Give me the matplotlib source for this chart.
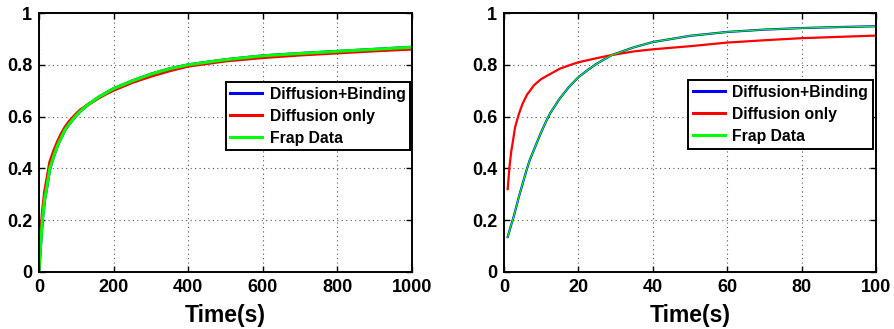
import matplotlib
matplotlib.use("Agg")
import matplotlib.pyplot as plt

plt.rcParams['font.family'] = ['Liberation Sans', 'DejaVu Sans']
plt.rcParams['font.weight'] = 'bold'

# long time scale (0-1000 s)
t_long = [0, 3, 5, 9, 15, 20, 29, 40, 50, 60, 70, 80, 97, 110, 130, 160, 180, 200,
          250, 300, 350, 400, 500, 600, 700, 800, 900, 1000]
long_binding = [0.01, 0.08, 0.12, 0.20, 0.28, 0.32, 0.40, 0.45, 0.49, 0.52, 0.55,
                0.57, 0.60, 0.62, 0.645, 0.675, 0.692, 0.708, 0.738, 0.764, 0.785,
                0.80, 0.82, 0.835, 0.844, 0.852, 0.86, 0.868]
long_diffusion = [0.02, 0.11, 0.15, 0.23, 0.31, 0.35, 0.425, 0.47, 0.505, 0.535,
                  0.56, 0.58, 0.607, 0.625, 0.645, 0.672, 0.688, 0.702, 0.732, 0.756,
                  0.777, 0.795, 0.815, 0.828, 0.838, 0.846, 0.854, 0.861]
long_frap = [0.01, 0.08, 0.12, 0.20, 0.28, 0.32, 0.40, 0.45, 0.49, 0.52, 0.55,
             0.57, 0.60, 0.62, 0.645, 0.675, 0.692, 0.708, 0.738, 0.764, 0.785,
             0.80, 0.82, 0.835, 0.844, 0.852, 0.86, 0.868]

# short time scale (0-100 s)
t_short = [1, 1.5, 2, 2.35, 3, 4, 5, 6.2, 7, 8, 9, 10, 11.6, 12.5, 15, 17.5, 20,
           22.5, 25, 29, 35, 40, 50, 60, 70, 80, 90, 100]
short_binding = [0.135, 0.16, 0.185, 0.20, 0.235, 0.29, 0.34, 0.40, 0.435, 0.47,
                 0.505, 0.54, 0.59, 0.615, 0.67, 0.715, 0.752, 0.78, 0.805, 0.838,
                 0.868, 0.888, 0.912, 0.927, 0.936, 0.942, 0.946, 0.949]
short_diffusion = [0.32, 0.41, 0.47, 0.50, 0.56, 0.61, 0.65, 0.685, 0.70, 0.72,
                   0.733, 0.745, 0.758, 0.765, 0.785, 0.798, 0.81, 0.818, 0.826,
                   0.838, 0.852, 0.86, 0.872, 0.886, 0.895, 0.903, 0.908, 0.913]
short_frap = [0.135, 0.16, 0.185, 0.20, 0.235, 0.29, 0.34, 0.40, 0.435, 0.47,
              0.505, 0.54, 0.59, 0.615, 0.67, 0.715, 0.752, 0.78, 0.805, 0.838,
              0.868, 0.888, 0.912, 0.927, 0.936, 0.942, 0.946, 0.949]

labels = ['Diffusion+Binding', 'Diffusion only', 'Frap Data']

fig = plt.figure(figsize=(8.95, 3.29), dpi=100)
ax1 = fig.add_axes([0.0436, 0.1733, 0.4168, 0.787])
ax2 = fig.add_axes([0.5631, 0.1733, 0.4156, 0.787])


def style(ax, xmax, xticks):
    ax.set_xlim(0, xmax)
    ax.set_ylim(0, 1)
    ax.set_xticks(xticks)
    ax.set_yticks([0, 0.2, 0.4, 0.6, 0.8, 1])
    ax.set_yticklabels(['0', '0.2', '0.4', '0.6', '0.8', '1'])
    ax.grid(True, color='#555555', linestyle=(0, (1, 3)), linewidth=0.8)
    ax.tick_params(direction='in', top=True, right=True, length=4, width=1,
                   labelsize=13, pad=5)
    for lab in ax.get_xticklabels() + ax.get_yticklabels():
        lab.set_fontweight('bold')
    for sp in ax.spines.values():
        sp.set_linewidth(1.4)
    ax.set_xlabel('Time(s)', fontsize=16.5, fontweight='bold', labelpad=6)


ax1.plot(t_long, long_binding, color='#0000ff', lw=2.2, label=labels[0])
ax1.plot(t_long, long_diffusion, color='#ff0000', lw=2.2, label=labels[1])
ax1.plot(t_long, long_frap, color='#00ff00', lw=2.2, label=labels[2])
style(ax1, 1000, [0, 200, 400, 600, 800, 1000])

ax2.plot(t_short, short_binding, color='#0000ff', lw=1.6, label=labels[0])
ax2.plot(t_short, short_diffusion, color='#ff0000', lw=1.6, label=labels[1])
ax2.plot(t_short, short_frap, color='#00ff00', lw=0.9, label=labels[2])
style(ax2, 100, [0, 20, 40, 60, 80, 100])

for ax, anchor in ((ax1, (0.995, 0.734)), (ax2, (0.992, 0.741))):
    leg = ax.legend(loc='upper right', bbox_to_anchor=anchor, borderaxespad=0,
                    fancybox=False, framealpha=1, edgecolor='black',
                    prop={'weight': 'bold', 'size': 11.3},
                    handlelength=2.0, labelspacing=0.45, handletextpad=0.5,
                    borderpad=0.3)
    leg.get_frame().set_linewidth(1.4)
    for h in leg.get_lines():
        h.set_linewidth(2.2)

fig.savefig('out.png', dpi=100)
